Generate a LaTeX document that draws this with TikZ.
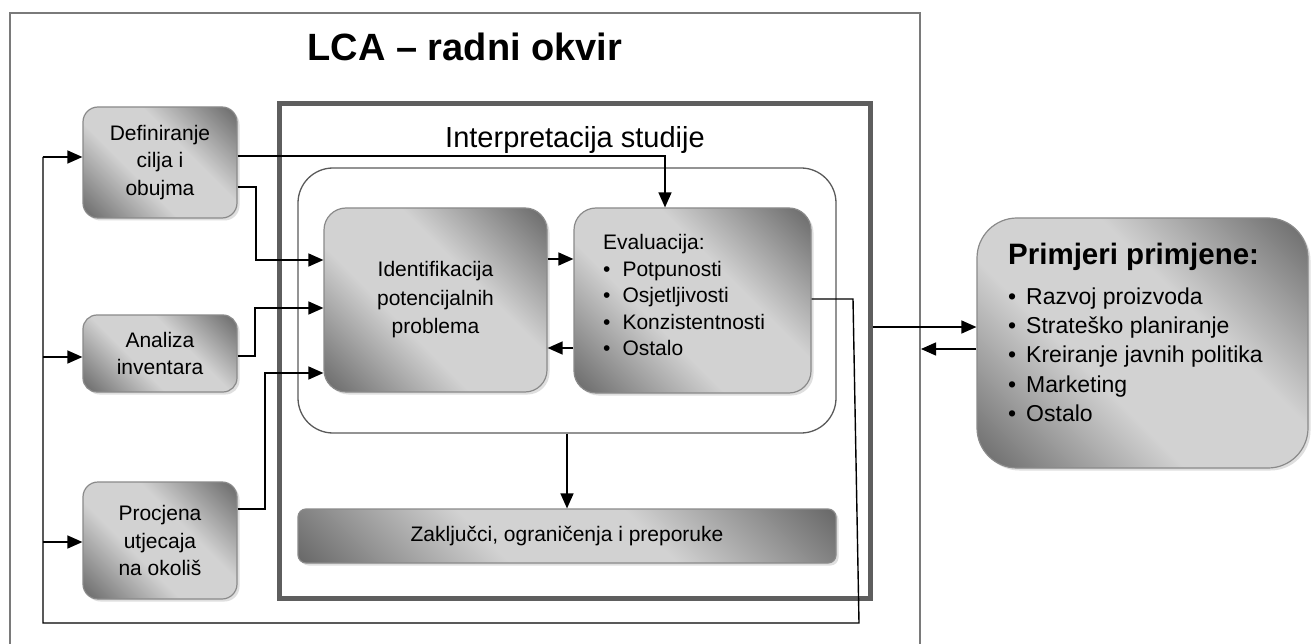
\documentclass[tikz,border=0pt]{standalone}
\usepackage{fontspec}
\setmainfont{Liberation Sans}
\usetikzlibrary{arrows.meta,shadows}
\definecolor{gdark}{HTML}{696969}
\definecolor{glight}{HTML}{D2D2D2}
\definecolor{bordergray}{HTML}{8A8A8A}
\definecolor{framegray}{HTML}{7A7A7A}
\definecolor{thickgray}{HTML}{5E5E5E}
\definecolor{innergray}{HTML}{5A5A5A}
\pgfdeclareverticalshading{boxshade}{100bp}{color(0bp)=(gdark); color(15bp)=(gdark); color(40bp)=(glight); color(60bp)=(glight); color(85bp)=(gdark); color(100bp)=(gdark)}
\begin{document}
\begin{tikzpicture}[x=1pt,y=-1pt,
  box/.style={draw=bordergray, line width=1.2pt,
    shading=boxshade, shading angle=-45,
    drop shadow={shadow xshift=2.5pt, shadow yshift=-2.5pt, opacity=.25},
    align=center, inner sep=0pt, font=\fontsize{21}{27.5}\selectfont},
  arr/.style={line width=1.4pt, -{Triangle[length=15pt,width=13pt]}},
  ln/.style={line width=1.4pt},
  txt/.style={inner sep=0pt, align=left}
]
\useasboundingbox (0,0) rectangle (1314,644);
\fill[white] (0,0) rectangle (1314,644);

% outer frame (open at bottom, continues past the page)
\node[draw=framegray, line width=2pt, minimum width=910pt, minimum height=660pt, inner sep=0pt] (lca) at (465,343) {};
\node[font=\fontsize{38}{44}\selectfont\bfseries] (title) at (465,47) {LCA – radni okvir};

% thick frame
\node[draw=thickgray, line width=5pt, minimum width=591pt, minimum height=494pt, inner sep=0pt] (interp) at (574.5,351) {};
\node[font=\fontsize{29}{34}\selectfont, anchor=base] (ititle) at (575,148) {Interpretacija studije};

% inner container
\node[draw=innergray, line width=1.3pt, rounded corners=35pt, minimum width=538pt, minimum height=265pt, inner sep=0pt] (inner) at (567,300.5) {};

% left boxes
\node[box, minimum width=154pt, minimum height=111pt, rounded corners=15pt] (def) at (160,162.5) {Definiranje\\cilja i\\obujma};
\node[box, minimum width=154pt, minimum height=77pt, rounded corners=14pt] (ana) at (160,353.5) {Analiza\\inventara};
\node[box, minimum width=154pt, minimum height=117pt, rounded corners=15pt] (pro) at (160,540.5) {Procjena\\utjecaja\\na okoliš};

% inner boxes
\node[box, minimum width=223pt, minimum height=184pt, rounded corners=22pt, font=\fontsize{21}{28.5}\selectfont] (ide) at (435.5,300) {Identifikacija\\potencijalnih\\problema};
\node[box, minimum width=237pt, minimum height=185pt, rounded corners=22pt] (eva) at (692.5,300.5) {};
\node[txt, anchor=north west, font=\fontsize{21}{26.5}\selectfont] (evat) at (603,234.5)
  {Evaluacija:\\\textbullet\hspace{12pt}Potpunosti\\\textbullet\hspace{12pt}Osjetljivosti\\\textbullet\hspace{12pt}Konzistentnosti\\\textbullet\hspace{12pt}Ostalo};

\node[box, minimum width=538pt, minimum height=54pt, rounded corners=8pt] (zak) at (567,536) {Zaključci, ograničenja i preporuke};

% right box
\node[box, minimum width=331pt, minimum height=250pt, rounded corners=40pt] (pri) at (1142.5,343) {};
\node[txt, anchor=base west, font=\fontsize{29.5}{34}\selectfont\bfseries] (prih) at (1008,265) {Primjeri primjene:};
\node[txt, anchor=north west, font=\fontsize{23}{29.3}\selectfont] (pril) at (1008,287.5)
  {\textbullet\hspace{10pt}Razvoj proizvoda\\\textbullet\hspace{10pt}Strateško planiranje\\\textbullet\hspace{10pt}Kreiranje javnih politika\\\textbullet\hspace{10pt}Marketing\\\textbullet\hspace{10pt}Ostalo};

% connectors
\coordinate (lpA) at (853,299);
\coordinate (lpB) at (859,623);
\coordinate (lpC) at (43,623);
\coordinate (lpD) at (43,157);
\draw[ln] (eva.east |- lpA) -- (lpA) -- (lpB) -- (lpC) -- (lpD);
\draw[arr] (lpD) -- (def.west |- lpD);
\draw[arr] (43,357) -- (ana.west |- 0,357);
\draw[arr] (43,542) -- (pro.west |- 0,542);

\draw[arr] (def.east |- 0,156) -| (665,0 |- eva.north);
\draw[arr] (def.east |- 0,187) -| (256,260) -- (ide.west |- 0,260);
\draw[arr] (ana.east |- 0,356) -| (255,308) -- (ide.west |- 0,308);
\draw[arr] (pro.east |- 0,509) -| (265,373) -- (ide.west |- 0,373);
\draw[arr] (ide.east |- 0,259) -- (eva.west |- 0,259);
\draw[arr] (eva.west |- 0,348) -- (ide.east |- 0,348);
\draw[arr] (567,0 |- inner.south) -- (567,0 |- zak.north);
\draw[arr] (interp.east |- 0,327) -- (pri.west |- 0,327);
\draw[arr] (pri.west |- 0,349) -- (lca.east |- 0,349);
\end{tikzpicture}
\end{document}
